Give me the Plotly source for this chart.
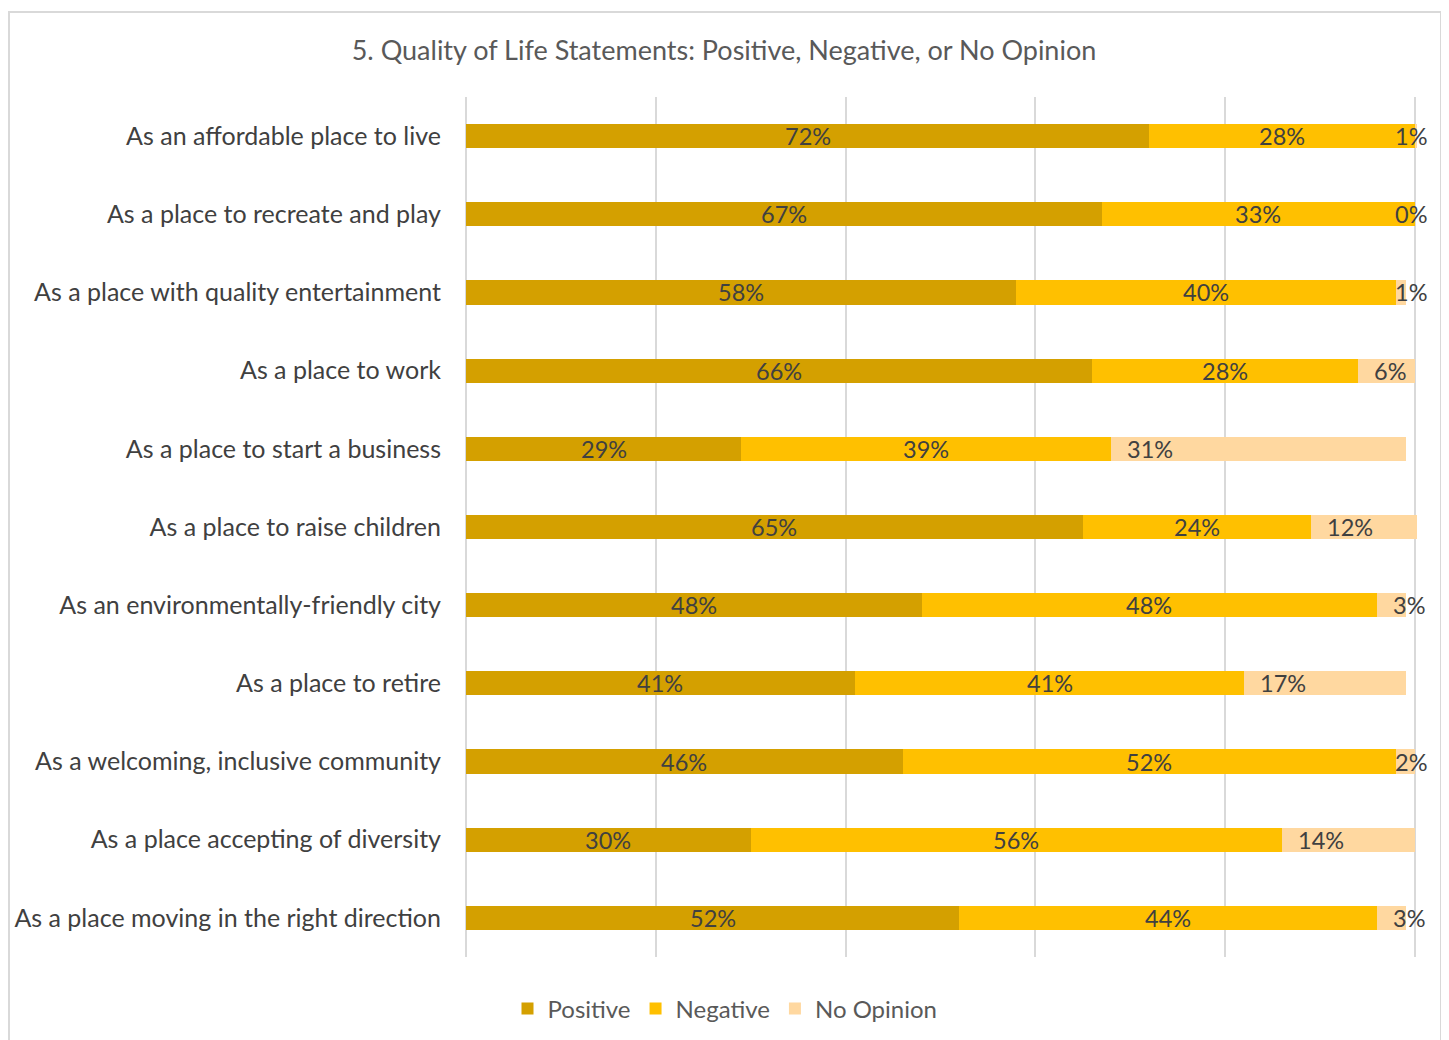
import plotly.graph_objects as go

categories = [
    "As an affordable place to live",
    "As a place to recreate and play",
    "As a place with quality entertainment",
    "As a place to work",
    "As a place to start a business",
    "As a place to raise children",
    "As an environmentally-friendly city",
    "As a place to retire",
    "As a welcoming, inclusive community",
    "As a place accepting of diversity",
    "As a place moving in the right direction",
]
positive = [72, 67, 58, 66, 29, 65, 48, 41, 46, 30, 52]
negative = [28, 33, 40, 28, 39, 24, 48, 41, 52, 56, 44]
no_opinion = [1, 0, 1, 6, 31, 12, 3, 17, 2, 14, 3]

series_names = ["Positive", "Negative", "No Opinion"]
colors = ["#D4A000", "#FFC000", "#FFD8A0"]

FONT = "Lato"
TXT = "#404040"

fig = go.Figure()
for name, vals, col in zip(series_names, [positive, negative, no_opinion], colors):
    fig.add_trace(go.Bar(
        name=name, y=categories, x=[v / 100 for v in vals], orientation="h",
        marker=dict(color=col, line=dict(width=0)),
        hoverinfo="skip",
    ))

annotations = []
for i, cat in enumerate(categories):
    p, n, o = positive[i] / 100, negative[i] / 100, no_opinion[i] / 100
    annotations.append(dict(x=p / 2, y=cat, text=f"{positive[i]}%", showarrow=False,
                            xanchor="center", font=dict(family=FONT, size=23.5, color=TXT)))
    annotations.append(dict(x=p + n / 2, y=cat, text=f"{negative[i]}%", showarrow=False,
                            xanchor="center", font=dict(family=FONT, size=23.5, color=TXT)))
    annotations.append(dict(x=min(p + n + 0.0178, 0.98), y=cat, text=f"{no_opinion[i]}%",
                            showarrow=False, xanchor="left", xshift=-3,
                            font=dict(family=FONT, size=23.5, color=TXT)))

# page offset (body margin) of 8px compensated
OFF = 8
W, H = 1449 - OFF, 1040 - OFF
L, R, T, B = 464 - OFF, 1417 - OFF, 97 - OFF, 957 - OFF
def px(x):
    return (x - OFF - L) / (R - L)
def py(y):
    return (B - (y - OFF)) / (B - T)

fig.update_layout(
    width=W, height=H,
    margin=dict(l=L, r=W - R, t=T, b=H - B, autoexpand=False),
    paper_bgcolor="white", plot_bgcolor="white",
    barmode="stack", bargap=0.69,
    title=dict(text="5. Quality of Life Statements: Positive, Negative, or No Opinion",
               x=px(724), xref="paper", xanchor="center", y=1 - (51 - OFF) / H, yanchor="middle",
               font=dict(family=FONT, size=27, color="#595959")),
    xaxis=dict(range=[-0.002, 1.002], dtick=0.2, showticklabels=False, showgrid=True,
               gridcolor="#D9D9D9", gridwidth=2, zeroline=False, showline=False,
               fixedrange=True, automargin=False),
    yaxis=dict(autorange="reversed", showgrid=False, ticks="", ticklen=0,
               ticklabelstandoff=22, automargin=False,
               tickfont=dict(family=FONT, size=25, color=TXT)),
    legend=dict(orientation="h", x=px(725), xanchor="center", y=py(1009), yanchor="middle",
                font=dict(family=FONT, size=24, color="#595959"), itemwidth=30,
                traceorder="normal"),
    annotations=annotations,
    shapes=[dict(type="rect", xref="paper", yref="paper", x0=px(9), x1=px(1441),
                 y0=py(1080), y1=py(12), line=dict(color="#D9D9D9", width=2),
                 fillcolor="rgba(0,0,0,0)", layer="below")],
    showlegend=True,
)

fig.write_html("out.html")
